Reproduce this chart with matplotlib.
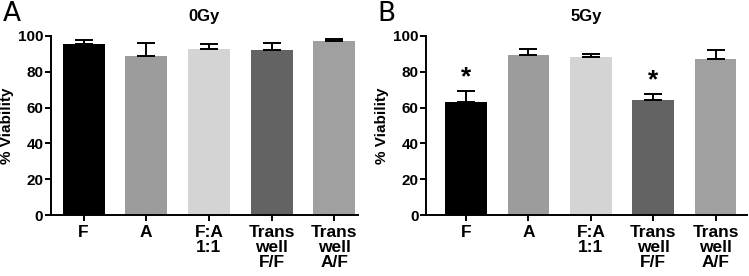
import matplotlib.pyplot as plt

groups = ["F", "A", "F:A\n1:1", "Trans\nwell\nF/F", "Trans\nwell\nA/F"]
colors = ["#000000", "#9c9c9c", "#d4d4d4", "#636363", "#a0a0a0"]

mean_0gy = [95.4, 88.8, 92.6, 92.2, 97.0]
top_0gy = [97.8, 95.9, 95.3, 95.9, 98.5]

mean_5gy = [63.1, 89.4, 88.3, 64.4, 87.0]
top_5gy = [69.3, 92.9, 89.8, 67.4, 92.2]
signif_5gy = [True, False, False, True, False]

plt.rcParams['font.family'] = ['Liberation Sans', 'DejaVu Sans']

fig = plt.figure(figsize=(7.49, 2.76), dpi=100)
ax_a = fig.add_axes([0.068, 0.221, 0.410, 0.649])
ax_b = fig.add_axes([0.569, 0.221, 0.428, 0.649])


def draw_panel(ax, means, tops, title, xlim, stars=None):
    x = list(range(len(means)))
    err = [t - m for m, t in zip(means, tops)]
    ax.bar(x, means, width=0.67, color=colors, zorder=2)
    ax.errorbar(x, means, yerr=[[0] * len(err), err], fmt='none', ecolor='black',
                elinewidth=1.4, capsize=6.5, capthick=1.4, zorder=3)
    if stars:
        for xi, t, s in zip(x, tops, stars):
            if s:
                ax.text(xi, t + 1.0, "*", ha='center', va='bottom', fontsize=19,
                        fontweight='bold')
    ax.set_xlim(*xlim)
    ax.set_ylim(0, 100)
    ax.set_yticks([0, 20, 40, 60, 80, 100])
    ax.set_xticks(x)
    ax.set_xticklabels(groups, fontsize=12.5, fontweight='bold', linespacing=1.0)
    ax.tick_params(axis='y', labelsize=11, width=1.4, length=4, pad=1.5)
    ax.tick_params(axis='x', width=1.4, length=4, pad=3)
    for lab in ax.get_yticklabels():
        lab.set_fontweight('bold')
    ax.set_ylabel("% Viability", fontsize=11, fontweight='bold', labelpad=3)
    ax.set_title(title, fontsize=12, fontweight='bold', pad=11)
    for side in ['top', 'right']:
        ax.spines[side].set_visible(False)
    for side in ['left', 'bottom']:
        ax.spines[side].set_linewidth(1.4)


draw_panel(ax_a, mean_0gy, top_0gy, "0Gy", (-0.52, 4.38))
draw_panel(ax_b, mean_5gy, top_5gy, "5Gy", (-0.64, 4.5), signif_5gy)

fig.text(0.004, 0.998, "A", fontsize=19, family='DejaVu Sans', va='top', ha='left')
fig.text(0.504, 0.998, "B", fontsize=19, family='DejaVu Sans', va='top', ha='left')

fig.savefig("out.png", dpi=100)
